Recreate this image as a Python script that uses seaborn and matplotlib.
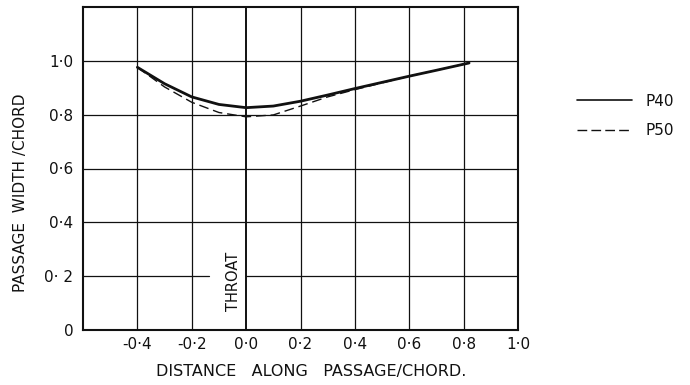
import matplotlib
matplotlib.use("Agg")
import matplotlib.pyplot as plt
import seaborn as sns
import pandas as pd
from matplotlib.lines import Line2D

# Data
x_vals = [-0.4, -0.3, -0.2, -0.1, 0.0, 0.1, 0.2, 0.3, 0.4, 0.5, 0.6, 0.7, 0.82]
p40 = [0.976, 0.915, 0.866, 0.838, 0.826, 0.832, 0.850, 0.873, 0.897, 0.920, 0.943, 0.965, 0.992]
p50 = [0.976, 0.903, 0.846, 0.808, 0.792, 0.799, 0.832, 0.866, 0.893, 0.918, 0.943, 0.965, 0.992]
series_names = ["P40", "P50"]
x_ticks = [-0.4, -0.2, 0.0, 0.2, 0.4, 0.6, 0.8, 1.0]
x_ticklabels = ["-0·4", "-0·2", "0·0", "0·2", "0·4", "0·6", "0·8", "1·0"]
y_ticks = [0.0, 0.2, 0.4, 0.6, 0.8, 1.0]
y_ticklabels = ["0", "0· 2", "0·4", "0·6", "0·8", "1·0"]

df = pd.DataFrame({
    "x": x_vals * 2,
    "y": p40 + p50,
    "series": [series_names[0]] * len(x_vals) + [series_names[1]] * len(x_vals),
})

sns.set_theme(style="white")
plt.rcParams["font.family"] = ["DejaVu Sans"]

INK = "#111111"
fig = plt.figure(figsize=(6.9, 3.85), dpi=100)
ax = fig.add_axes([83 / 690, 1 - 330 / 385, (518 - 83) / 690, (330 - 7) / 385])

# grid
for gx in [-0.4, -0.2, 0.2, 0.4, 0.6, 0.8]:
    ax.axvline(gx, color=INK, lw=0.9, zorder=1)
ax.axvline(0.0, color=INK, lw=1.4, zorder=1)
for gy in [0.4, 0.6, 0.8, 1.0]:
    ax.axhline(gy, color=INK, lw=0.9, zorder=1)
# broken 0.2 line around THROAT label
ax.plot([-0.6, -0.137], [0.2, 0.2], color=INK, lw=0.9, zorder=1)
ax.plot([0.0, 1.0], [0.2, 0.2], color=INK, lw=0.9, zorder=1)

sns.lineplot(data=df, x="x", y="y", hue="series", style="series",
             palette={"P40": INK, "P50": INK},
             dashes={"P40": "", "P50": (7, 3.5)},
             ax=ax, legend=False, estimator=None, sort=False, zorder=3)
lines = ax.get_lines()
lines[-2].set_linewidth(2.0)
lines[-1].set_linewidth(1.0)

ax.set_xlim(-0.6, 1.0)
ax.set_ylim(0, 1.2)
ax.set_xticks(x_ticks)
ax.set_xticklabels(x_ticklabels, fontsize=11)
ax.set_yticks(y_ticks)
ax.set_yticklabels(y_ticklabels, fontsize=11)
ax.tick_params(axis="x", length=0, pad=5, colors=INK)
ax.tick_params(axis="y", length=0, pad=7, colors=INK)
for sp in ax.spines.values():
    sp.set_color(INK)
    sp.set_linewidth(1.5)

ax.set_xlabel("DISTANCE   ALONG   PASSAGE/CHORD.", fontsize=11.5, color=INK)
ax.set_ylabel("PASSAGE  WIDTH /CHORD", fontsize=11, color=INK)
ax.yaxis.set_label_coords(-0.126, 0.424)
ax.xaxis.set_label_coords(0.525, -0.105)

ax.text(-0.048, 0.07, "THROAT", rotation=90, fontsize=10.5, ha="center", va="bottom",
        color=INK, zorder=4)

# legend drawn outside the axes
handles = [Line2D([], [], color=INK, lw=1.2),
           Line2D([], [], color=INK, lw=1.0, dashes=(7, 3))]
fig.legend(handles, series_names, loc="upper left", bbox_to_anchor=(563 / 690, 1 - 80 / 385),
           frameon=False, fontsize=11, handlelength=3.6, labelspacing=0.95, handletextpad=0.9,
           labelcolor=INK)

fig.savefig("out.png", dpi=100)
